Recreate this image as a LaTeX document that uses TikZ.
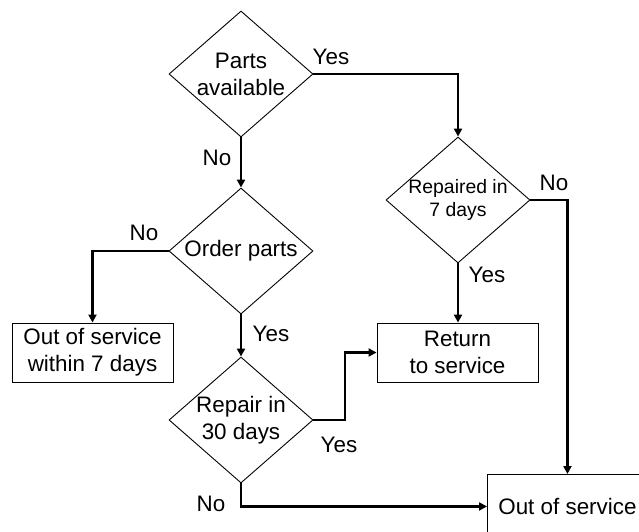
\documentclass[tikz,border=0pt]{standalone}
\usepackage{fontspec}
\setmainfont{Liberation Sans}
\usetikzlibrary{shapes.geometric,arrows.meta}
\begin{document}
\begin{tikzpicture}[x=1pt,y=-1pt,
  every node/.style={font=\fontsize{22.4}{27}\selectfont},
  decision/.style={shape=diamond,draw,line width=0.9pt,minimum width=144pt,minimum height=126pt,inner sep=-12pt,align=center},
  smalldecision/.style={decision,font=\fontsize{19.4}{22.5}\selectfont},
  procbox/.style={draw,line width=0.9pt,minimum width=161pt,minimum height=59pt,inner sep=0pt,align=center},
  conn/.style={line width=2.2pt,-{Triangle[length=8pt,width=8pt]}},
  lbl/.style={inner sep=0pt}
]
\useasboundingbox (0,0) rectangle (639,531);
\clip (0,0) rectangle (639,531);
\node[decision] (d1) at (241,74) {Parts\\available};
\node[decision] (d2) at (241,251) {Order parts};
\node[decision] (d3) at (241,420) {Repair in\\30 days};
\node[smalldecision] (d4) at (458,200) {Repaired in\\7 days};
\node[procbox] (box1) at (92.5,352.5) {Out of service\\within 7 days};
\node[procbox] (ret) at (457.5,352.5) {Return\\to service};
\node[procbox,minimum width=160pt,minimum height=64pt,anchor=north west] (out) at (487,474) {Out of service};
\draw[conn] (d1.east) -| (d4.north);
\draw[conn] (d1.south) -- (d2.north);
\draw[conn] (d2.west) -| (box1.north);
\draw[conn] (d2.south) -- (d3.north);
\coordinate (bend) at (345,420);
\draw[conn] (d3.east) -- (bend) |- (ret.west);
\draw[conn] (d3.south) |- (out.west);
\draw[conn] (d4.south) -- (d4.south |- ret.north);
\draw[conn] (d4.east) -| (out.north);
\node[lbl] (l1) at (331,57) {Yes};
\node[lbl] (l2) at (217,158) {No};
\node[lbl] (l3) at (144,233) {No};
\node[lbl] (l4) at (271,334) {Yes};
\node[lbl] (l5) at (554,183) {No};
\node[lbl] (l6) at (487,275) {Yes};
\node[lbl] (l7) at (339,445) {Yes};
\node[lbl] (l8) at (211,504) {No};
\end{tikzpicture}
\end{document}
